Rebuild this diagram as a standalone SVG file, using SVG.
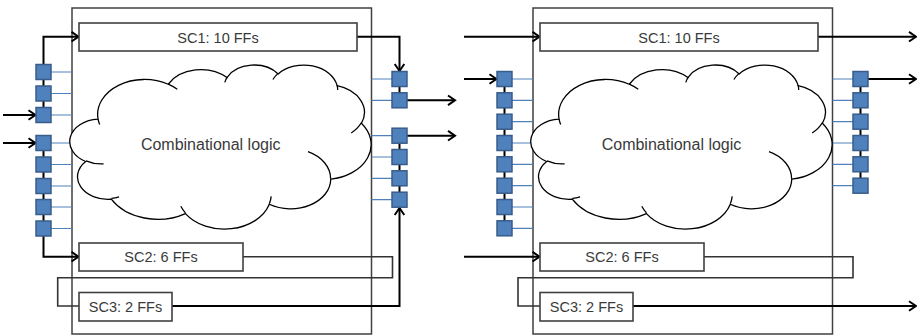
<svg xmlns="http://www.w3.org/2000/svg" xmlns:xlink="http://www.w3.org/1999/xlink" width="917" height="336" viewBox="0 0 917 336">
<style>
.blk{fill:#fff;stroke:#404040;stroke-width:1.5}
.sc{fill:#fff;stroke:#404040;stroke-width:1.6}
.lbl{font-family:"Liberation Sans",Arial,sans-serif;fill:#3a3a3a;text-anchor:middle}
.sct{font-size:14.5px}
.cl{font-size:16px}
.cloud{fill:#fff;stroke:#000;stroke-width:1.3}
.cin{fill:none;stroke:#000;stroke-width:1.3}
.ff{fill:#4F81BD;stroke:#385D8A;stroke-width:1.5}
.bl{stroke:#4F81BD;stroke-width:1.2;fill:none}
.w{fill:none;stroke:#000;stroke-width:2}
.lp{fill:none;stroke:#333;stroke-width:1.6}
</style>
<defs>
<marker id="arr" markerUnits="userSpaceOnUse" markerWidth="14" markerHeight="14" refX="9" refY="6" orient="auto" overflow="visible">
<path d="M2,1.2 L9,6 L2,10.8" fill="none" stroke="#000" stroke-width="2"/>
</marker>
<g id="cloudShape">
<path class="cloud" d="M98.08,119.05 A46.90,34.89 0 0 1 168.26,84.25 A37.03,27.59 0 0 1 226.95,77.53 A30.31,22.57 0 0 1 278.18,73.93 A33.73,25.04 0 0 1 337.10,85.69 A37.03,27.61 0 0 1 361.41,123.21 A47.05,35.00 0 0 1 330.74,179.17 A40.17,29.87 0 0 1 269.29,204.26 A46.89,34.98 0 0 1 185.44,213.57 A53.61,40.02 0 0 1 111.29,199.15 A30.28,22.47 0 0 1 85.67,161.48 A30.17,22.57 0 0 1 98.08,119.05 Z"/>
<path class="cin" d="M103.59,163.88 A30.17,22.57 0 0 1 86.0,160.85 M119.11,196.99 A30.28,22.47 0 0 1 111.41,198.44 M185.43,212.90 A46.89,34.98 0 0 1 180.79,206.29 M271.19,196.43 A46.89,34.98 0 0 1 269.34,203.68 M308.0,151.64 A40.17,29.87 0 0 1 330.58,178.73 M361.26,122.79 A37.03,27.61 0 0 1 351.2,132.95 M337.14,85.1 A33.73,25.04 0 0 1 337.67,89.9 M272.93,79.5 A33.73,25.04 0 0 1 278.09,73.37 M224.76,82.42 A30.31,22.57 0 0 1 227.25,77.14 M168.22,84.21 A46.90,34.89 0 0 1 177.26,89.33 M99.66,124.44 A46.90,34.89 0 0 1 98.08,119.05"/>
</g>
</defs>

<g id="block-left">
<rect class="blk" x="72" y="8" width="299.5" height="326"/>
</g>
<g id="block-right">
<rect class="blk" x="533" y="8" width="299.5" height="326"/>
</g>

<g id="connectors">
<path class="bl" d="M51,72 H72 M51,93.5 H72 M51,115 H72 M51,143 H72 M51,164.5 H72 M51,186 H72 M51,207 H72 M51,228.5 H72"/>
<path class="bl" d="M371.5,79 H392 M371.5,100.3 H392 M371.5,135.7 H392 M371.5,157 H392 M371.5,178.3 H392 M371.5,199.7 H392"/>
<path class="w" d="M3,115 H35.5" marker-end="url(#arr)"/>
<path class="w" d="M3,143 H35.5" marker-end="url(#arr)"/>
<path class="w" d="M43.5,115 V36.7 H78.5" marker-end="url(#arr)"/>
<path class="w" d="M43.5,143 V256.7 H78.5" marker-end="url(#arr)"/>
<path class="w" d="M357,36.7 H399.5 V71" marker-end="url(#arr)"/>
<path class="w" d="M399.5,79 V100.3"/>
<path class="w" d="M399.5,135.7 V199.7"/>
<path class="w" d="M407,100.3 H455" marker-end="url(#arr)"/>
<path class="w" d="M407,135.7 H455" marker-end="url(#arr)"/>
<path class="w" d="M172,306 H399.5 V208" marker-end="url(#arr)"/>
<path class="lp" d="M243,256.7 H392.5 V277.7 H57.7 V306 H79"/>
<path class="bl" d="M512,79 H533 M512,100.3 H533 M512,121.7 H533 M512,143 H533 M512,164.3 H533 M512,185.7 H533 M512,207 H533 M512,228.3 H533"/>
<path class="bl" d="M832.5,79 H853 M832.5,100.3 H853 M832.5,121.7 H853 M832.5,143 H853 M832.5,164.3 H853 M832.5,185.7 H853"/>
<path class="w" d="M504.5,79 V228.3"/>
<path class="w" d="M860.5,79 V185.7"/>
<path class="w" d="M464,36.7 H539.5" marker-end="url(#arr)"/>
<path class="w" d="M464,79 H496.5" marker-end="url(#arr)"/>
<path class="w" d="M464,256.7 H539.5" marker-end="url(#arr)"/>
<path class="w" d="M818,36.7 H916" marker-end="url(#arr)"/>
<path class="w" d="M868,79 H916" marker-end="url(#arr)"/>
<path class="w" d="M633,306 H916" marker-end="url(#arr)"/>
<path class="lp" d="M704,256.7 H853 V277.7 H518 V306 H540"/>
</g>

<g id="cloud-left">
<use xlink:href="#cloudShape" href="#cloudShape"/>
<text class="lbl cl" x="210.7" y="149.5">Combinational logic</text>
</g>
<g id="sc1-left">
<rect class="sc" x="79" y="23" width="278" height="28"/>
<text class="lbl sct" x="218" y="42.5">SC1: 10 FFs</text>
</g>
<g id="sc2-left">
<rect class="sc" x="79" y="243" width="164" height="28"/>
<text class="lbl sct" x="161" y="262">SC2: 6 FFs</text>
</g>
<g id="sc3-left">
<rect class="sc" x="79" y="292.5" width="93" height="28.5"/>
<text class="lbl sct" x="125.5" y="311.5">SC3: 2 FFs</text>
</g>
<g id="ffs-left-in">
<rect class="ff" x="36" y="64.5" width="15" height="15"/>
<rect class="ff" x="36" y="86" width="15" height="15"/>
<rect class="ff" x="36" y="107.5" width="15" height="15"/>
<rect class="ff" x="36" y="135.5" width="15" height="15"/>
<rect class="ff" x="36" y="157" width="15" height="15"/>
<rect class="ff" x="36" y="178.5" width="15" height="15"/>
<rect class="ff" x="36" y="199.5" width="15" height="15"/>
<rect class="ff" x="36" y="221" width="15" height="15"/>
</g>
<g id="ffs-left-out">
<rect class="ff" x="392" y="71.5" width="15" height="15"/>
<rect class="ff" x="392" y="92.8" width="15" height="15"/>
<rect class="ff" x="392" y="128.2" width="15" height="15"/>
<rect class="ff" x="392" y="149.5" width="15" height="15"/>
<rect class="ff" x="392" y="170.8" width="15" height="15"/>
<rect class="ff" x="392" y="192.2" width="15" height="15"/>
</g>

<g id="cloud-right">
<use xlink:href="#cloudShape" href="#cloudShape" x="461"/>
<text class="lbl cl" x="671.5" y="149.5">Combinational logic</text>
</g>
<g id="sc1-right">
<rect class="sc" x="540" y="23" width="278" height="28"/>
<text class="lbl sct" x="679" y="42.5">SC1: 10 FFs</text>
</g>
<g id="sc2-right">
<rect class="sc" x="540" y="243" width="164" height="28"/>
<text class="lbl sct" x="622" y="262">SC2: 6 FFs</text>
</g>
<g id="sc3-right">
<rect class="sc" x="540" y="292.5" width="93" height="28.5"/>
<text class="lbl sct" x="586.5" y="311.5">SC3: 2 FFs</text>
</g>
<g id="ffs-right-in">
<rect class="ff" x="497" y="71.5" width="15" height="15"/>
<rect class="ff" x="497" y="92.8" width="15" height="15"/>
<rect class="ff" x="497" y="114.2" width="15" height="15"/>
<rect class="ff" x="497" y="135.5" width="15" height="15"/>
<rect class="ff" x="497" y="156.8" width="15" height="15"/>
<rect class="ff" x="497" y="178.2" width="15" height="15"/>
<rect class="ff" x="497" y="199.5" width="15" height="15"/>
<rect class="ff" x="497" y="220.8" width="15" height="15"/>
</g>
<g id="ffs-right-out">
<rect class="ff" x="853" y="71.5" width="15" height="15"/>
<rect class="ff" x="853" y="92.8" width="15" height="15"/>
<rect class="ff" x="853" y="114.2" width="15" height="15"/>
<rect class="ff" x="853" y="135.5" width="15" height="15"/>
<rect class="ff" x="853" y="156.8" width="15" height="15"/>
<rect class="ff" x="853" y="178.2" width="15" height="15"/>
</g>
</svg>
